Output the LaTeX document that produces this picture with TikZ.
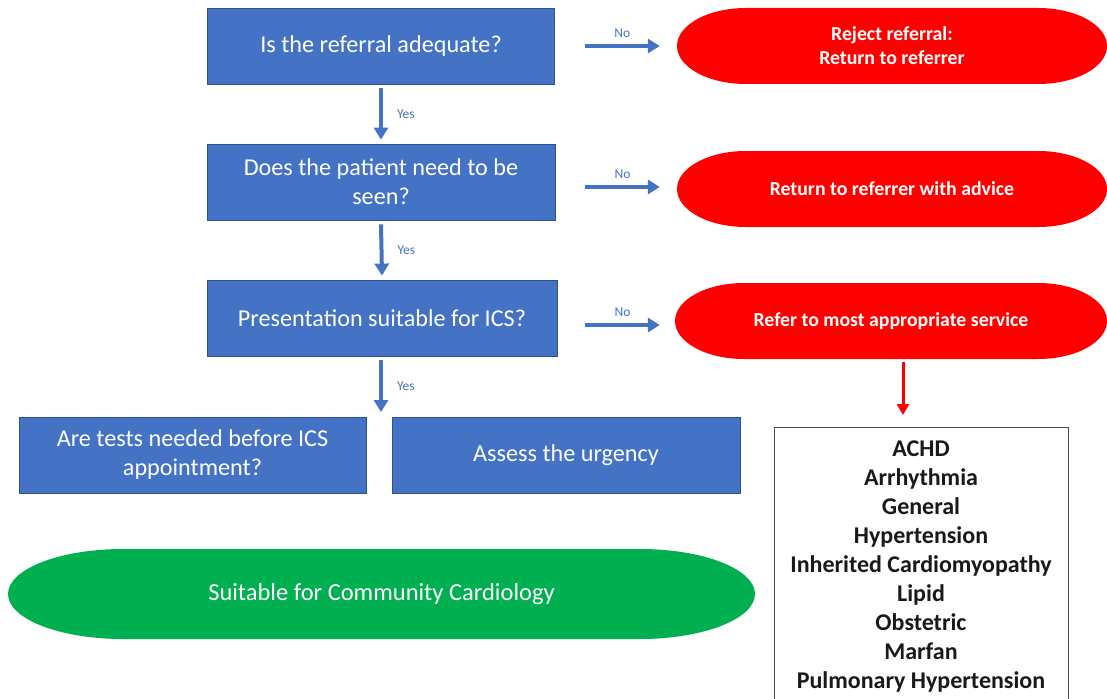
\documentclass[tikz,border=0pt]{standalone}
\usepackage{fontspec}
\setmainfont{Carlito}
\usetikzlibrary{arrows.meta,calc}
\definecolor{boxblue}{HTML}{4472C4}
\definecolor{boxedge}{HTML}{2F528F}
\definecolor{termred}{HTML}{FF0000}
\definecolor{termgreen}{HTML}{00B050}
\tikzset{
  qbox/.style={fill=boxblue, draw=boxedge, line width=0.8pt, text=white,
    font=\fontsize{24.2}{29}\selectfont, align=center, inner sep=0pt,
    minimum height=76pt},
  termshape/.style n args={4}{minimum width=#1pt, minimum height=#2pt, inner sep=0pt,
    align=center,
    path picture={\fill[#4] ([xshift=#3pt]path picture bounding box.north west)
      -- ([xshift=-#3pt]path picture bounding box.north east)
      arc[start angle=90,end angle=-90,x radius=#3pt,y radius=#2pt/2]
      -- ([xshift=#3pt]path picture bounding box.south west)
      arc[start angle=270,end angle=90,x radius=#3pt,y radius=#2pt/2] -- cycle;}},
  redtext/.style={text=white, font=\bfseries\fontsize{19.8}{24}\selectfont},
  flowarrow/.style={draw=boxblue, line width=4pt, -{Triangle[length=12pt,width=14pt]}},
  redarrow/.style={draw=termred, line width=3pt, -{Triangle[length=11pt,width=12pt]}},
  lbl/.style={text=boxblue, font=\fontsize{13.5}{15}\selectfont, inner sep=1pt},
  listbox/.style={draw=black!70, line width=0.8pt, fill=white},
}
\begin{document}
\begin{tikzpicture}[x=1pt,y=-1pt]
\clip (0,0) rectangle (1107,698);
\fill[white] (0,0) rectangle (1107,698);

% question boxes
\node[qbox, minimum width=347pt] (b1) at (381,46) {Is the referral adequate?};
\node[qbox, minimum width=348pt] (b2) at (381,182) {Does the patient need to be\\seen?};
\node[qbox, minimum width=350pt] (b3) at (382,318) {Presentation suitable for ICS?};
\node[qbox, minimum width=347pt] (b4) at (192.5,455) {Are tests needed before ICS\\appointment?};
\node[qbox, minimum width=348pt] (b5) at (566,455) {Assess the urgency};

% red terminators
\node[termshape={430}{76}{69}{termred}, redtext] (r1) at (892,46) {Reject referral:\\Return to referrer};
\node[termshape={430}{76}{69}{termred}, redtext] (r2) at (892,189) {Return to referrer with advice};
\node[termshape={432}{76}{69}{termred}, redtext] (r3) at (891,321) {Refer to most appropriate service};

% green terminator
\node[termshape={747}{90}{115}{termgreen}, text=white, font=\fontsize{24.5}{29}\selectfont] (g) at (381.5,594) {Suitable for Community Cardiology};

% list box
\node[listbox, minimum width=294pt, minimum height=300pt, anchor=north] (lst) at (921,427) {};
\node[align=center, font=\bfseries\fontsize{24}{29}\selectfont, text=black!90, inner sep=0pt, anchor=north] (lsttext) at (921,441)
  {ACHD\\Arrhythmia\\General\\Hypertension\\Inherited Cardiomyopathy\\Lipid\\Obstetric\\Marfan\\Pulmonary Hypertension};

% yes arrows
\coordinate (y3end) at (381,412);
\draw[flowarrow] ([yshift=-4pt]b1.south) -- node[lbl, right=13pt] {Yes} ([yshift=4pt]b2.north);
\draw[flowarrow] ([yshift=-4pt]b2.south) -- node[lbl, right=13pt] {Yes} ([yshift=4pt]b3.north);
\draw[flowarrow] ($(b3.south)+(-1,4)$) -- node[lbl, right=13pt] {Yes} (y3end);

% no arrows
\draw[flowarrow] ($(b1.east |- r1.west)+(30,0)$) -- node[lbl, above=5pt] {No} ($(r1.west)+(-17,0)$);
\draw[flowarrow] ($(b2.east |- r2.west)+(30,-2)$) -- node[lbl, above=5pt] {No} ($(r2.west)+(-17,-2)$);
\draw[flowarrow] ($(b3.east |- r3.west)+(28,4)$) -- node[lbl, above=5pt] {No} ($(r3.west)+(-15,4)$);

% red arrow
\draw[redarrow] ($(r3.south)+(12,3)$) -- ($(lst.north)+(-18,-12)$);
\end{tikzpicture}
\end{document}
